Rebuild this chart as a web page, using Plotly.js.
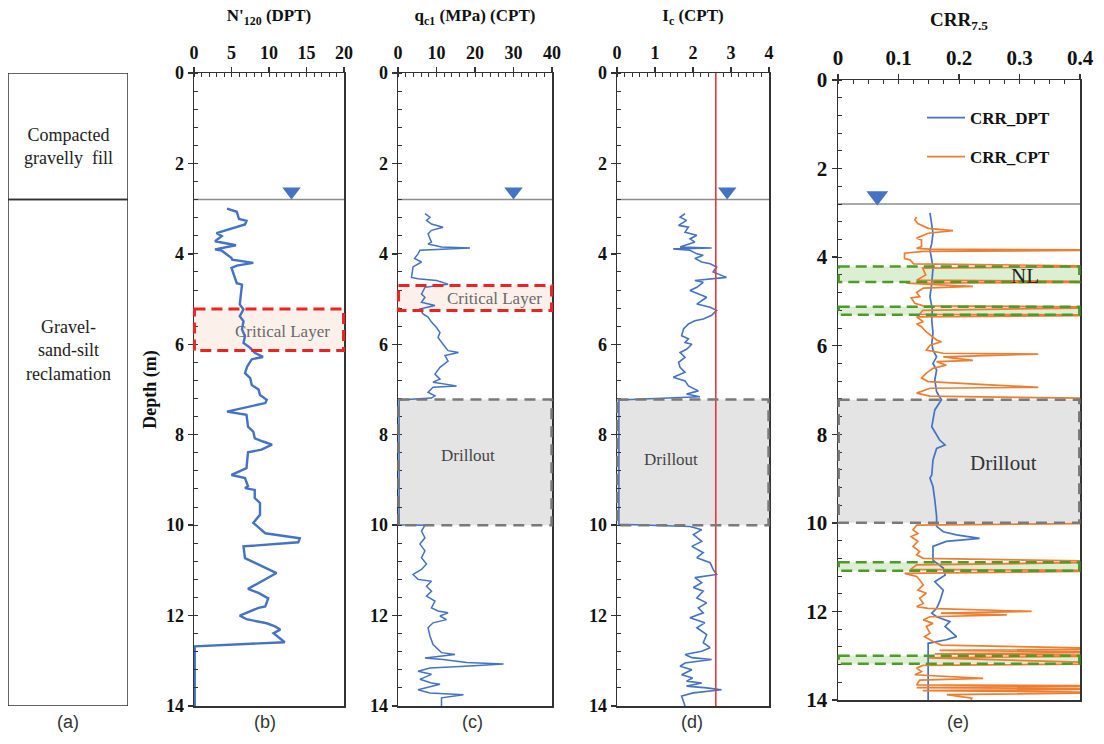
<!DOCTYPE html>
<html>
<head>
<meta charset="utf-8">
<script src="https://cdn.plot.ly/plotly-3.0.1.min.js"></script>
<style>html,body{margin:0;padding:0;background:#fff;}#chart{width:1104px;height:744px;}</style>
</head>
<body>
<div id="chart"></div>
<script>
// ---------------- DATA ----------------
// (b) N'120 from DPT
const nDepth = [3.0,3.07,3.23,3.27,3.35,3.54,3.61,3.72,3.81,3.9,3.93,4.09,4.13,4.2,4.26,4.31,4.65,4.68,5.12,5.23,5.38,5.49,5.67,5.82,5.97,6.08,6.19,6.28,6.33,6.49,6.64,6.75,6.9,7.0,7.12,7.23,7.3,7.49,7.56,7.82,7.93,8.08,8.15,8.22,8.33,8.39,8.74,8.89,8.96,9.14,9.18,9.22,9.4,9.51,9.77,9.95,10.18,10.29,10.38,10.47,10.73,11.06,11.41,11.5,11.62,11.8,11.83,12.0,12.08,12.17,12.24,12.31,12.39,12.59,12.68,14.0];
const nValue = [4.4,5.7,6.0,7.0,6.8,3.0,3.7,2.8,5.6,2.8,3.7,5.0,5.1,7.9,5.7,5.0,5.7,6.4,6.1,6.6,6.1,6.6,6.4,6.8,6.6,7.5,8.1,9.2,7.7,7.1,6.8,7.5,7.7,8.6,8.8,9.7,9.5,4.4,7.0,7.2,7.9,8.1,9.2,10.4,9.0,7.2,7.0,5.0,6.8,7.2,6.8,8.1,8.1,8.8,8.8,7.9,9.5,14.1,13.9,6.6,6.8,11.0,7.2,8.6,9.9,9.5,8.6,6.1,7.0,9.7,10.8,11.5,10.6,12.1,0.1,0.1];

// (c) qc1 (MPa) from CPT
const qcDepth = [3.11,3.19,3.26,3.34,3.41,3.48,3.56,3.74,3.78,3.85,3.87,3.91,3.92,4.0,4.1,4.18,4.29,4.52,4.55,4.59,4.67,4.74,4.89,4.96,5.07,5.14,5.22,5.33,5.4,5.51,5.63,5.74,5.85,6.0,6.14,6.18,6.25,6.37,6.51,6.66,6.77,6.84,6.92,6.95,7.06,7.14,7.19,7.23,9.99,10.0,10.13,10.28,10.42,10.57,10.72,10.86,10.98,11.09,11.2,11.24,11.35,11.46,11.57,11.68,11.83,11.9,11.94,12.01,12.09,12.16,12.27,12.45,12.64,12.82,12.86,12.94,12.97,13.04,13.07,13.12,13.16,13.23,13.3,13.41,13.49,13.52,13.64,13.71,13.75,13.82,14.0];
const qcValue = [7.0,8.3,7.4,8.7,11.7,8.7,7.8,8.7,7.8,11.3,18.7,10.0,5.7,5.2,4.3,6.1,3.9,3.5,5.2,10.0,13.0,7.0,6.1,7.0,6.1,9.6,5.7,6.5,7.8,8.7,10.0,10.9,10.4,11.7,13.0,15.7,12.2,13.0,10.9,9.6,10.9,9.1,15.2,9.1,7.8,9.6,8.7,0.3,0.3,7.0,6.1,7.0,5.7,7.0,6.1,7.4,6.1,3.9,5.2,8.7,7.4,8.7,7.4,9.6,8.7,10.4,13.0,10.9,12.6,9.1,7.8,8.3,9.1,11.3,14.8,7.0,11.7,17.8,27.4,17.4,8.3,5.2,8.7,5.7,8.7,10.9,5.2,8.3,17.0,11.3,11.3];

// (d) Ic from CPT
const icDepth = [3.11,3.19,3.26,3.37,3.41,3.52,3.59,3.67,3.74,3.85,3.87,3.89,3.92,4.0,4.03,4.1,4.18,4.22,4.29,4.4,4.52,4.55,4.59,4.63,4.74,4.81,4.89,4.96,5.11,5.18,5.25,5.36,5.44,5.48,5.55,5.66,5.81,5.88,5.96,6.0,6.11,6.18,6.29,6.4,6.51,6.62,6.73,6.81,6.92,7.03,7.1,7.16,7.23,9.98,10.03,10.1,10.21,10.36,10.47,10.61,10.72,10.83,10.98,11.09,11.16,11.27,11.38,11.46,11.61,11.72,11.83,11.94,12.05,12.16,12.27,12.42,12.6,12.71,12.79,12.86,12.93,12.97,13.05,13.12,13.2,13.31,13.38,13.45,13.49,13.56,13.6,13.64,13.71,13.78,14.0];
const icValue = [1.79,1.66,1.83,1.62,1.88,1.79,2.10,1.92,2.05,1.66,2.49,1.48,1.92,2.10,2.27,2.05,2.23,2.45,2.62,2.53,2.88,2.53,2.05,2.27,2.10,1.92,2.14,2.36,2.10,2.45,2.62,2.49,2.27,2.05,1.88,1.75,1.70,1.88,1.79,1.97,1.83,1.66,1.79,1.62,1.66,1.79,1.48,1.79,1.88,2.14,1.83,2.18,0.05,0.05,1.92,2.23,2.01,2.23,1.97,2.27,2.10,2.45,2.53,2.62,2.05,2.23,2.01,2.27,2.10,2.36,2.14,2.27,1.92,2.31,2.10,2.36,2.27,2.45,2.23,1.79,1.97,2.49,1.79,1.66,1.97,1.70,1.99,1.83,2.23,1.83,2.36,2.75,2.01,1.70,1.79];
const icThreshold = 2.6;

// (e) CRR7.5
const crrDptDepth = [3.0,3.24,3.46,3.69,3.84,4.06,4.25,4.59,4.89,5.19,5.42,5.72,5.95,6.1,6.25,6.4,6.55,6.77,7.04,7.22,7.45,7.83,8.01,8.13,8.24,8.32,8.58,8.92,8.99,9.18,9.48,9.86,10.08,10.2,10.27,10.35,10.42,10.53,10.84,11.02,11.18,11.33,11.52,11.78,11.93,12.04,12.12,12.23,12.34,12.57,12.64,12.72,14.0];
const crrDptValue = [0.152,0.155,0.157,0.155,0.152,0.155,0.157,0.155,0.152,0.156,0.155,0.157,0.155,0.157,0.163,0.157,0.163,0.160,0.163,0.171,0.160,0.155,0.163,0.168,0.177,0.163,0.157,0.155,0.152,0.157,0.160,0.163,0.163,0.174,0.196,0.234,0.179,0.157,0.157,0.174,0.177,0.160,0.174,0.168,0.163,0.155,0.163,0.185,0.177,0.196,0.179,0.149,0.149];
const crrCptDepth = [3.09,3.16,3.24,3.35,3.40,3.46,3.57,3.61,3.76,3.80,3.82,3.84,3.87,3.91,4.03,4.06,4.15,4.21,4.25,4.40,4.52,4.56,4.59,4.66,4.70,4.80,4.89,4.92,5.04,5.10,5.13,5.20,5.29,5.31,5.35,5.46,5.51,5.57,5.69,5.87,5.91,5.99,6.10,6.17,6.19,6.25,6.33,6.36,6.44,6.51,6.62,6.73,6.81,6.94,6.96,7.07,7.14,7.22,9.99,10.05,10.16,10.24,10.31,10.42,10.53,10.65,10.72,10.80,10.88,10.95,11.05,11.08,11.14,11.21,11.29,11.40,11.52,11.59,11.70,11.82,11.89,11.93,12.0,12.04,12.08,12.12,12.19,12.27,12.34,12.49,12.57,12.68,12.76,12.85,12.88,12.92,12.96,13.0,13.05,13.18,13.22,13.28,13.36,13.43,13.51,13.55,13.66,13.68,13.72,13.75,13.79,13.83,13.88,13.96,14.0];
const crrCptValue = [0.130,0.127,0.132,0.149,0.190,0.149,0.130,0.138,0.138,0.130,0.152,0.5,0.141,0.110,0.110,0.119,0.125,0.5,0.140,0.145,0.130,0.5,0.113,0.223,0.141,0.130,0.135,0.121,0.127,0.141,0.5,0.140,0.135,0.5,0.130,0.141,0.130,0.138,0.146,0.163,0.171,0.152,0.146,0.174,0.331,0.174,0.223,0.163,0.179,0.157,0.146,0.138,0.149,0.331,0.152,0.130,0.152,0.6,0.6,0.130,0.124,0.132,0.121,0.132,0.124,0.135,0.130,0.141,0.5,0.130,0.120,0.5,0.110,0.130,0.135,0.141,0.132,0.146,0.135,0.141,0.130,0.149,0.320,0.170,0.279,0.152,0.141,0.157,0.146,0.152,0.143,0.157,0.171,0.5,0.168,0.5,0.160,0.5,0.150,0.5,0.140,0.130,0.138,0.127,0.240,0.135,0.130,0.5,0.130,0.5,0.140,0.5,0.180,0.221,0.220];

// Water table, zones
const waterTableDepth = 2.8;
const wtMarkerDepth = 2.62;
const wtMarkerX = [13, 30, 2.9, 0.065];   // b, c, d, e
const criticalLayerB = [5.22, 6.14];
const criticalLayerC = [4.70, 5.25];
const drilloutZone = [7.22, 10.0];
const nlZones = [[4.21, 4.56], [5.12, 5.30], [10.89, 11.08], [13.0, 13.18]];
const xTickVals = {b: [0, 20, 5], c: [0, 40, 10], d: [0, 4, 1], e: [0, 0.4, 0.1]};
const panelLabels = ['(a)', '(b)', '(c)', '(d)', '(e)'];

// ---------------- LAYOUT HELPERS ----------------
const W = 1104, H = 744;
const serif = 'Liberation Serif';
const BLUE = '#4472C4', ORANGE = '#ED7D31';
const px = v => v / W;
const py = v => 1 - v / H;

const yDomBD = [py(706), py(73)];
const yDomE = [py(700), py(80)];

function xAxis(dom, yname, r, minorD, title, fs, tfs, so) {
  return {
    domain: dom, anchor: yname, side: 'top', range: [r[0], r[1]], tick0: 0, dtick: r[2],
    ticks: 'outside', ticklen: 5, tickwidth: 1.3, tickcolor: '#333',
    showline: true, linecolor: '#333', linewidth: 1.5, mirror: true,
    showgrid: false, zeroline: false, fixedrange: true,
    tickfont: {family: serif, size: fs, color: '#111', weight: 'bold'},
    minor: {ticks: 'inside', ticklen: 4, dtick: minorD, tick0: 0, tickcolor: '#333', tickwidth: 1, showgrid: false},
    title: {text: title, font: {family: serif, size: tfs, color: '#111', weight: 'bold'}, standoff: so}
  };
}
function yAxis(dom, xname, fs, title) {
  const a = {
    domain: dom, anchor: xname, range: [14, 0], tick0: 0, dtick: 2,
    ticks: 'outside', ticklen: 5, tickwidth: 1.3, tickcolor: '#333',
    showline: true, linecolor: '#333', linewidth: 1.5, mirror: true,
    showgrid: false, zeroline: false, fixedrange: true,
    tickfont: {family: serif, size: fs, color: '#111', weight: 'bold'},
    minor: {ticks: 'inside', ticklen: 4, dtick: 0.4, tick0: 0, tickcolor: '#333', tickwidth: 1, showgrid: false}
  };
  if (title) a.title = {text: title, font: {family: serif, size: 18, color: '#111', weight: 'bold'}, standoff: 4};
  return a;
}

// ---------------- TRACES ----------------
const traces = [
  {x: nValue, y: nDepth, xaxis: 'x2', yaxis: 'y2', mode: 'lines', line: {color: BLUE, width: 2.4}, showlegend: false},
  {x: qcValue, y: qcDepth, xaxis: 'x3', yaxis: 'y3', mode: 'lines', line: {color: BLUE, width: 1.5}, showlegend: false},
  {x: icValue, y: icDepth, xaxis: 'x4', yaxis: 'y4', mode: 'lines', line: {color: BLUE, width: 1.6}, showlegend: false},
  {x: crrDptValue, y: crrDptDepth, xaxis: 'x5', yaxis: 'y5', mode: 'lines', name: 'CRR_DPT', line: {color: BLUE, width: 1.7}, legendgroup: 'g1'},
  {x: crrCptValue, y: crrCptDepth, xaxis: 'x5', yaxis: 'y5', mode: 'lines', name: 'CRR_CPT', line: {color: ORANGE, width: 1.7}, legendgroup: 'g2'}
];
['x2', 'x3', 'x4', 'x5'].forEach((xa, i) => {
  traces.push({x: [wtMarkerX[i]], y: [wtMarkerDepth], xaxis: xa, yaxis: 'y' + xa.slice(1), mode: 'markers',
    marker: {symbol: 'triangle-down', size: i === 3 ? 19 : 16, color: BLUE}, showlegend: false});
});

// ---------------- SHAPES ----------------
const shapes = [];
shapes.push({type: 'rect', xref: 'x', yref: 'y', x0: 0, x1: 1, y0: 0, y1: waterTableDepth, line: {color: '#333', width: 1.5}});
shapes.push({type: 'rect', xref: 'x', yref: 'y', x0: 0, x1: 1, y0: waterTableDepth, y1: 14, line: {color: '#333', width: 1.5}});
['2', '3', '4', '5'].forEach(n => {
  shapes.push({type: 'line', xref: 'x' + n + ' domain', yref: 'y' + n, x0: 0, x1: 1, y0: waterTableDepth, y1: waterTableDepth, line: {color: '#8c8c8c', width: 1.5}, layer: 'below'});
});
shapes.push({type: 'line', xref: 'x4', yref: 'y4 domain', x0: icThreshold, x1: icThreshold, y0: 0, y1: 1, line: {color: '#E8383D', width: 1.6}});
function zone(n, d, fill, border, dash, w) {
  shapes.push({type: 'rect', xref: 'x' + n + ' domain', yref: 'y' + n, x0: 0, x1: 1, y0: d[0], y1: d[1], fillcolor: fill, line: {width: 0}, layer: 'below'});
  shapes.push({type: 'rect', xref: 'x' + n + ' domain', yref: 'y' + n, x0: 0.003, x1: 0.997, y0: d[0], y1: d[1], line: {color: border, width: w, dash: dash}, layer: 'above'});
}
zone('2', criticalLayerB, '#fcf1ea', '#EE2222', '11px,6px', 3);
zone('3', criticalLayerC, '#fcf1ea', '#EE2222', '11px,6px', 3);
zone('3', drilloutZone, '#e4e4e4', '#7a7a7a', '11px,7px', 2.5);
zone('4', drilloutZone, '#e4e4e4', '#7a7a7a', '11px,7px', 2.5);
zone('5', drilloutZone, '#e4e4e4', '#7a7a7a', '11px,7px', 2.5);
nlZones.forEach(z => zone('5', z, '#dcefd2', '#4E9A2C', '11px,6px', 2.5));

// ---------------- ANNOTATIONS ----------------
const ann = [];
const txt = (text, xref, yref, x, y, size, color) => ann.push({text, xref, yref, x, y, showarrow: false, font: {family: serif, size, color}, xanchor: 'center', yanchor: 'middle'});
txt('Compacted<br>gravelly  fill', 'x', 'y', 0.5, 1.62, 18, '#222');
txt('Gravel-<br>sand-silt<br>reclamation', 'x', 'y', 0.5, 6.13, 18, '#222');
txt('Critical Layer', 'x2', 'y2', 11.8, 5.72, 17, '#6a6a6a');
txt('Critical Layer', 'x3', 'y3', 25.0, 4.98, 17, '#6a6a6a');
txt('Drillout', 'x3', 'y3', 18.3, 8.45, 17, '#444');
txt('Drillout', 'x4', 'y4', 1.42, 8.55, 17, '#444');
txt('Drillout', 'x5', 'y5', 0.273, 8.65, 21, '#333');
txt('NL', 'x5', 'y5', 0.309, 4.42, 21, '#222');
const labelX = [68, 265, 472, 692, 958];
panelLabels.forEach((t, i) => ann.push({text: t, xref: 'paper', yref: 'paper', x: px(labelX[i]), y: py(722), showarrow: false,
  font: {family: 'Liberation Sans', size: 18, color: '#333'}, xanchor: 'center', yanchor: 'middle'}));

// ---------------- LAYOUT ----------------
const layout = {
  width: W, height: H, margin: {l: 0, r: 0, t: 0, b: 0}, paper_bgcolor: '#fff', plot_bgcolor: 'rgba(0,0,0,0)',
  xaxis: {domain: [px(8), px(128)], anchor: 'y', range: [0, 1], visible: false, fixedrange: true},
  yaxis: {domain: yDomBD, anchor: 'x', range: [14, 0], visible: false, fixedrange: true},
  xaxis2: xAxis([px(194), px(344)], 'y2', xTickVals.b, 1, "N'<sub>120</sub> (DPT)", 18, 17, 17),
  yaxis2: yAxis(yDomBD, 'x2', 18, 'Depth (m)'),
  xaxis3: xAxis([px(398), px(552)], 'y3', xTickVals.c, 2, 'q<sub>c1</sub> (MPa) (CPT)', 18, 17, 17),
  yaxis3: yAxis(yDomBD, 'x3', 18),
  xaxis4: xAxis([px(617), px(769)], 'y4', xTickVals.d, 0.2, 'I<sub>c</sub> (CPT)', 18, 17, 17),
  yaxis4: yAxis(yDomBD, 'x4', 18),
  xaxis5: xAxis([px(838), px(1080)], 'y5', xTickVals.e, 0.025, 'CRR<sub>7.5</sub>', 21, 19, 14),
  yaxis5: yAxis(yDomE, 'x5', 21),
  shapes, annotations: ann,
  showlegend: true,
  legend: {x: px(922), y: py(100), xanchor: 'left', yanchor: 'top', bgcolor: 'rgba(0,0,0,0)', tracegroupgap: 14, itemwidth: 38,
    font: {family: serif, size: 17, color: '#111', weight: 'bold'}, traceorder: 'grouped'}
};
Plotly.newPlot('chart', traces, layout, {staticPlot: true});
</script>
</body>
</html>
